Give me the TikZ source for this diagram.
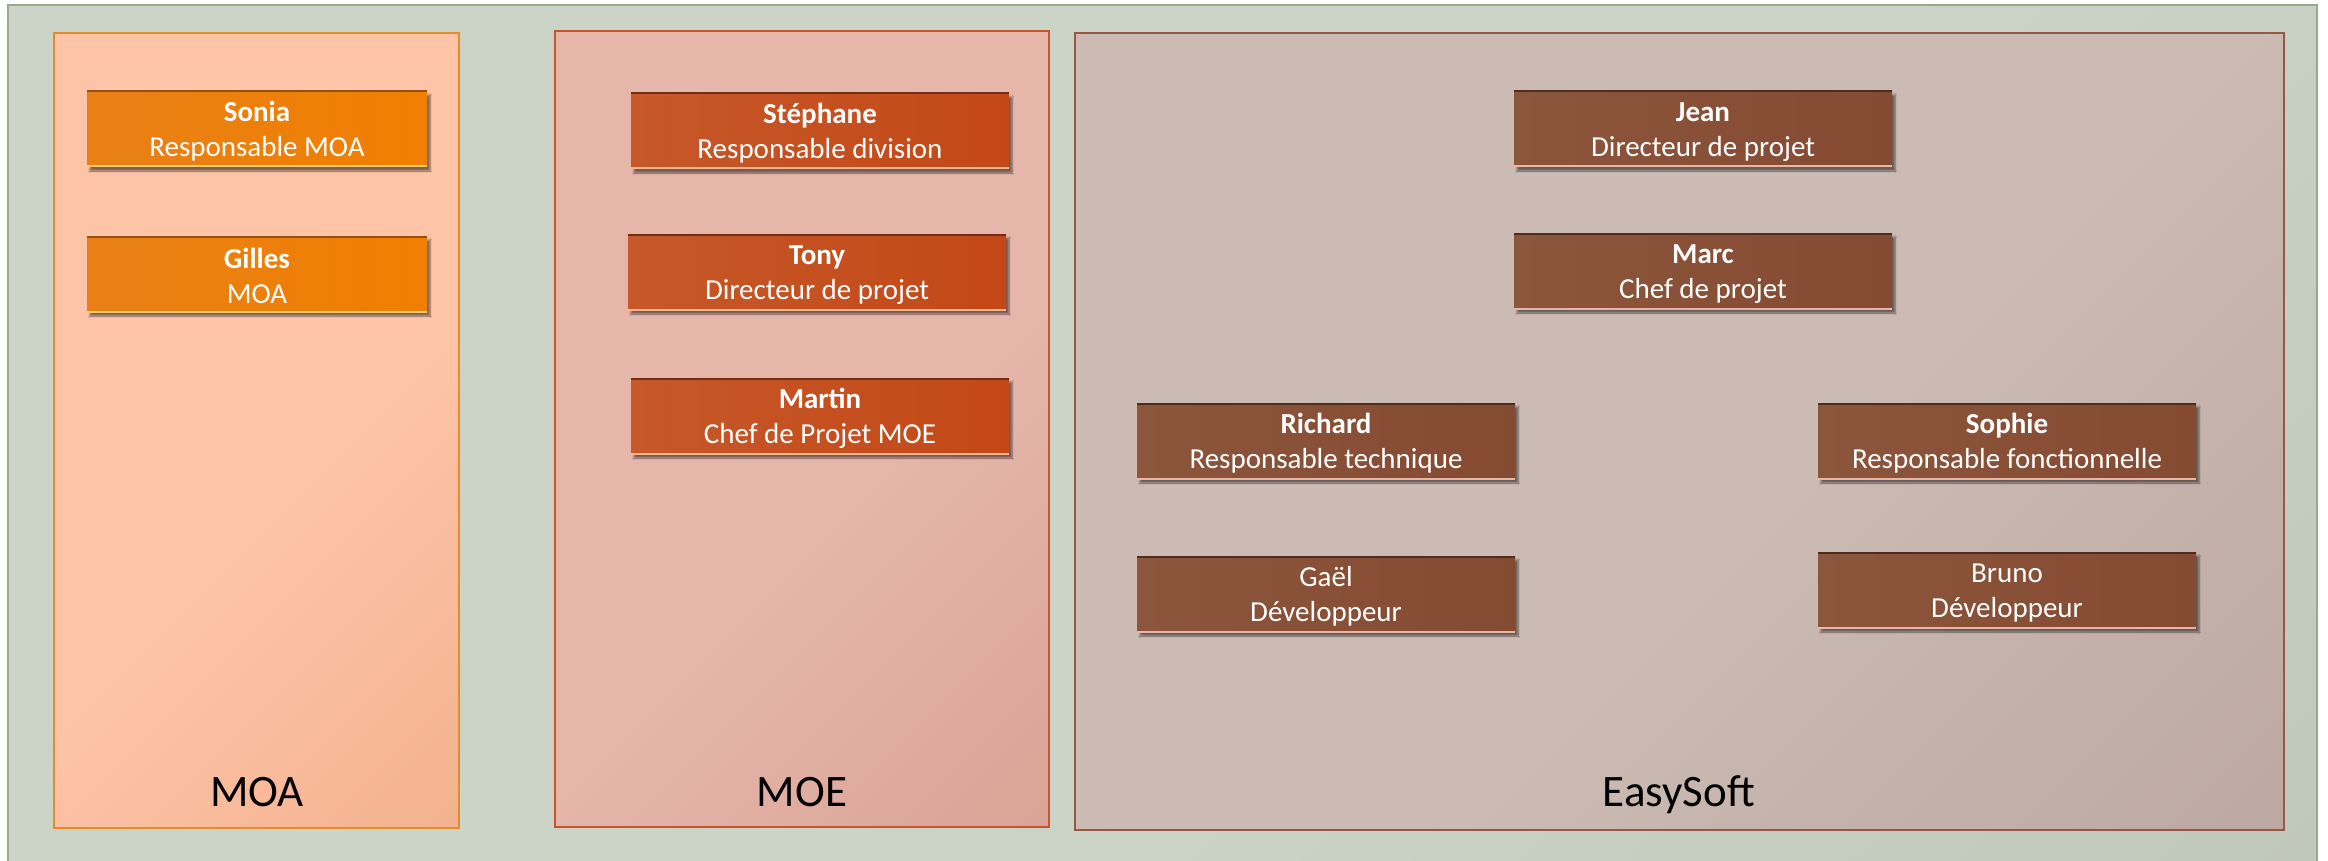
\documentclass[tikz,border=0pt]{standalone}
\usepackage{fontspec}
\setmainfont{Carlito}
\usetikzlibrary{shadows.blur}

\definecolor{bgA}{RGB}{204,212,200}
\definecolor{bgB}{RGB}{186,192,180}
\definecolor{bgline}{RGB}{152,168,142}
\definecolor{moapA}{RGB}{253,196,168}
\definecolor{moapB}{RGB}{238,168,130}
\definecolor{moaline}{RGB}{232,138,40}
\definecolor{moepA}{RGB}{230,182,171}
\definecolor{moepB}{RGB}{212,154,140}
\definecolor{moeline}{RGB}{200,84,46}
\definecolor{espA}{RGB}{203,187,179}
\definecolor{espB}{RGB}{182,160,152}
\definecolor{esline}{RGB}{150,88,66}
\definecolor{moaL}{RGB}{232,128,22}
\definecolor{moaR}{RGB}{241,127,0}
\definecolor{moaTop}{RGB}{150,80,20}
\definecolor{moaBot}{RGB}{252,205,110}
\definecolor{moeL}{RGB}{198,88,42}
\definecolor{moeR}{RGB}{196,72,22}
\definecolor{moeTop}{RGB}{115,45,22}
\definecolor{moeBot}{RGB}{246,182,142}
\definecolor{esL}{RGB}{140,86,60}
\definecolor{esR}{RGB}{133,74,50}
\definecolor{esTop}{RGB}{78,44,30}
\definecolor{esBot}{RGB}{232,182,162}
\colorlet{pA}{white}
\colorlet{pB}{black}
\pgfdeclareverticalshading[pA,pB]{panel}{100bp}{color(0bp)=(pB); color(25bp)=(pB); color(47bp)=(pA); color(100bp)=(pA)}

\begin{document}
\begin{tikzpicture}[x=1pt,y=-1pt,
    rims/.style 2 args={path picture={
        \draw[line width=3pt,#1] (path picture bounding box.north west) -- (path picture bounding box.north east);
        \draw[line width=3pt,#2] (path picture bounding box.south west) -- (path picture bounding box.south east);}},
    person/.style={minimum width=378pt, minimum height=76pt, inner sep=0pt, align=center,
        text=white, font=\fontsize{29}{35}\selectfont,
        blur shadow={shadow xshift=3pt,shadow yshift=-4pt,shadow blur steps=6,shadow opacity=50}},
    moabox/.style={person, minimum width=340pt, left color=moaL, right color=moaR, rims={moaTop}{moaBot}},
    moebox/.style={person, left color=moeL, right color=moeR, rims={moeTop}{moeBot}},
    esbox/.style={person, left color=esL, right color=esR, rims={esTop}{esBot}},
    team/.style n args={3}{line width=2.5pt, path picture={
        \colorlet{pA}{#1}\colorlet{pB}{#2}
        \shade[shading=panel, shading angle=45] (path picture bounding box.center) ++(-#3/2,-#3/2) rectangle ++(#3,#3);}},
    teamname/.style={anchor=base, font=\fontsize{45}{54}\selectfont}]

    \useasboundingbox (0,0) rectangle (2328,861);
    \fill[white] (0,0) rectangle (2328,861);
    \draw[bgline, team={bgA}{bgB}{3200}] (8,5) rectangle (2317,900);

    \draw[moaline, team={moapA}{moapB}{1200}] (54,33) rectangle (459,828);
    \draw[moeline, team={moepA}{moepB}{1290}] (555,31) rectangle (1049,827);
    \draw[esline, team={espA}{espB}{2006}] (1075,33) rectangle (2284,830);

    \node[teamname] (moa) at (257,806) {MOA};
    \node[teamname] (moe) at (802,806) {MOE};
    \node[teamname] (easysoft) at (1679,806) {EasySoft};

    \node[moabox] (sonia) at (257,129) {\textbf{Sonia}\strut\\Responsable MOA};
    \node[moabox] (gilles) at (257,274) {\textbf{Gilles}\strut\\MOA};

    \node[moebox] (stephane) at (820,131) {\textbf{Stéphane}\strut\\Responsable division};
    \node[moebox] (tony) at (817,272) {\textbf{Tony}\strut\\Directeur de projet};
    \node[moebox] (martin) at (820,416) {\textbf{Martin}\strut\\Chef de Projet MOE};

    \node[esbox] (jean) at (1703,129) {\textbf{Jean}\strut\\Directeur de projet};
    \node[esbox] (marc) at (1703,271) {\textbf{Marc}\strut\\Chef de projet};
    \node[esbox] (richard) at (1326,441) {\textbf{Richard}\strut\\Responsable technique};
    \node[esbox] (sophie) at (2007,441) {\textbf{Sophie}\strut\\Responsable fonctionnelle};
    \node[esbox] (gael) at (1326,594) {Gaël\strut\\Développeur};
    \node[esbox] (bruno) at (2007,590) {Bruno\strut\\Développeur};
\end{tikzpicture}
\end{document}
